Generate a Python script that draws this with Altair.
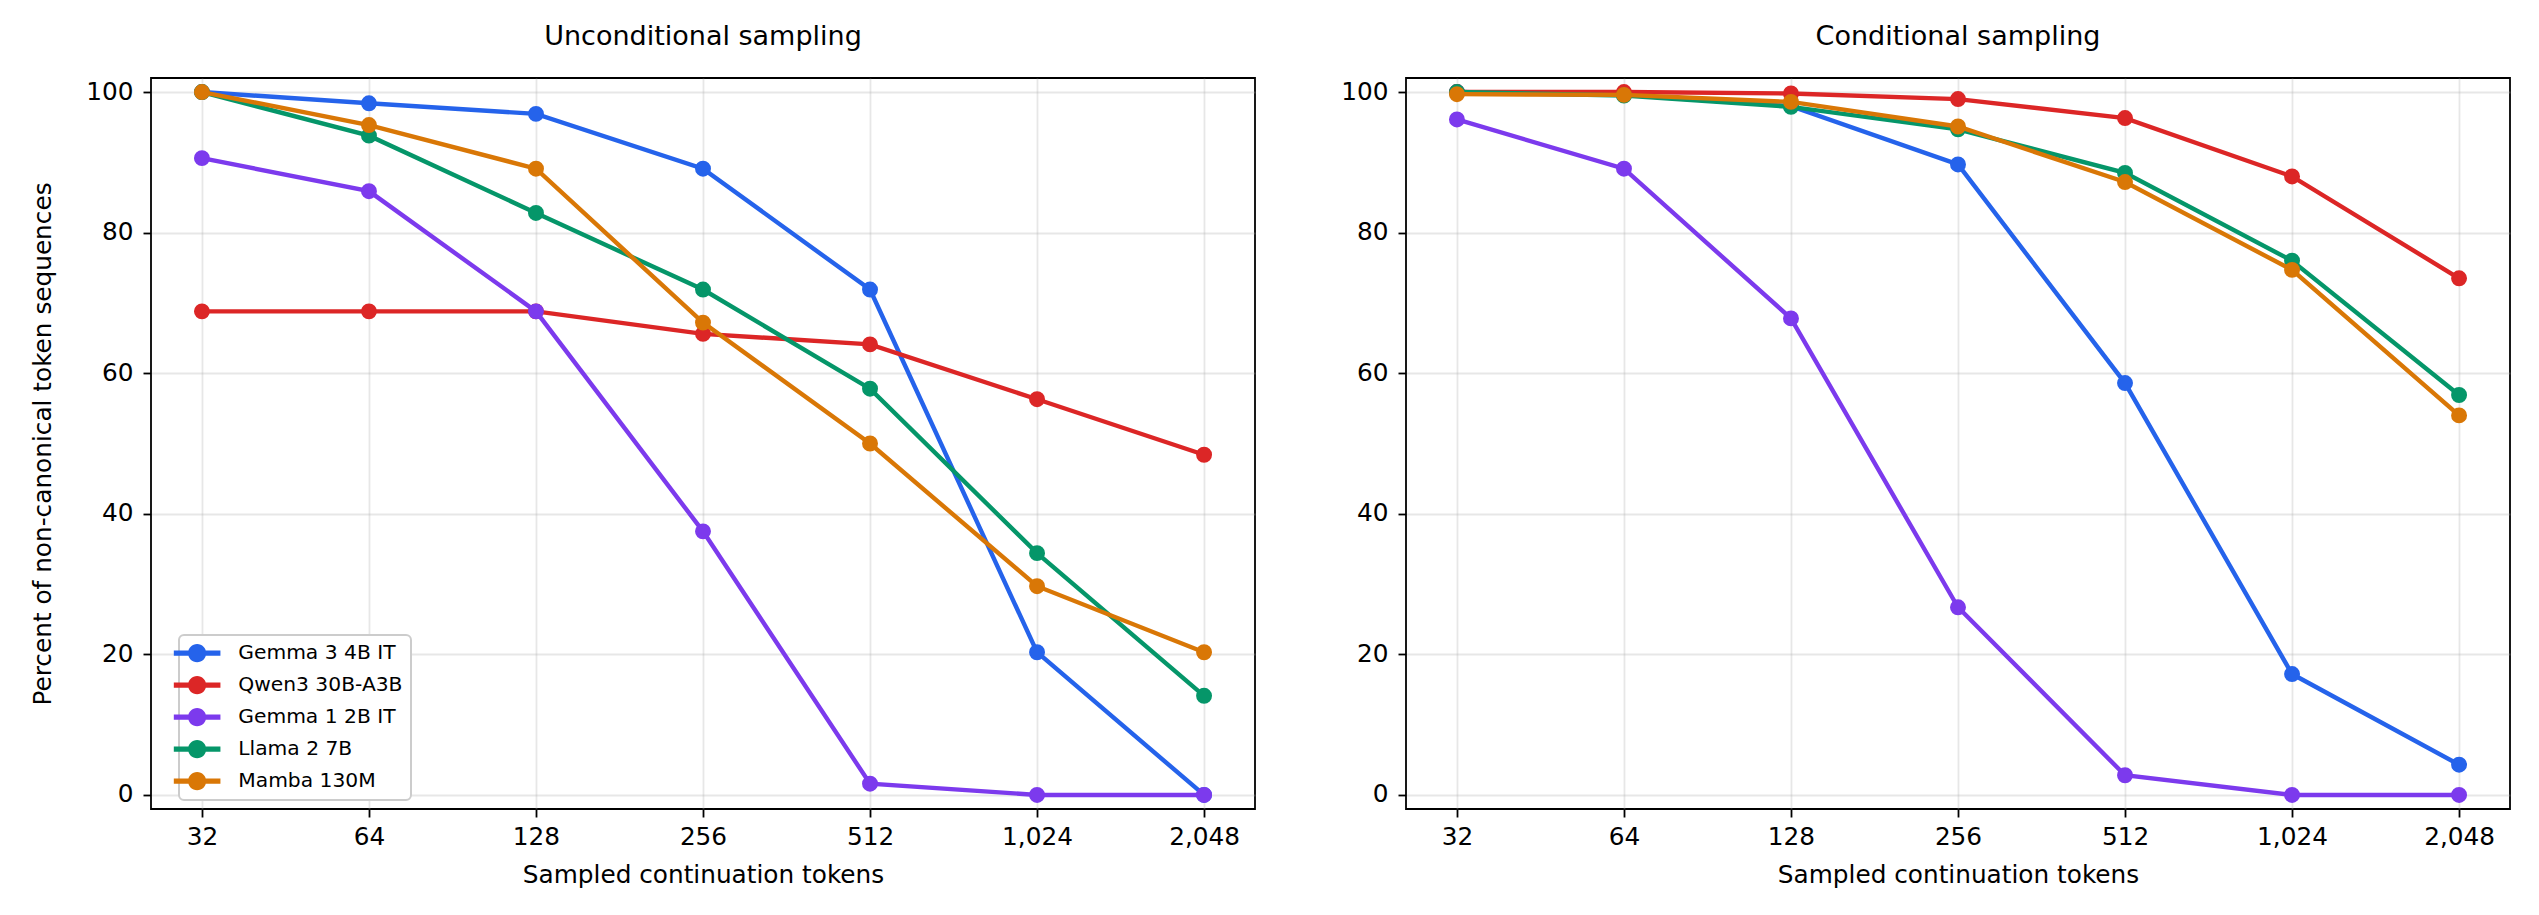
import altair as alt
import pandas as pd

# x positions: sampled continuation tokens (log2 spaced)
TOKENS = [32, 64, 128, 256, 512, 1024, 2048]
MODELS = ["Gemma 3 4B IT", "Qwen3 30B-A3B", "Gemma 1 2B IT", "Llama 2 7B", "Mamba 130M"]
COLORS = ["#2563eb", "#dc2626", "#7c3aed", "#059669", "#d97706"]

# % of non-canonical token sequences, unconditional sampling
UNCOND_GEMMA3 = [100.0, 98.4, 96.9, 89.1, 71.9, 20.3, 0.0]
UNCOND_QWEN3 = [68.8, 68.8, 68.8, 65.6, 64.1, 56.3, 48.4]
UNCOND_GEMMA1 = [90.6, 85.9, 68.8, 37.5, 1.6, 0.0, 0.0]
UNCOND_LLAMA2 = [100.0, 93.8, 82.8, 71.9, 57.8, 34.4, 14.1]
UNCOND_MAMBA = [100.0, 95.3, 89.1, 67.2, 50.0, 29.7, 20.3]

# % of non-canonical token sequences, conditional sampling
COND_GEMMA3 = [100.0, 99.6, 98.0, 89.7, 58.6, 17.2, 4.3]
COND_QWEN3 = [100.0, 100.0, 99.8, 99.0, 96.3, 88.0, 73.5]
COND_GEMMA1 = [96.1, 89.1, 67.8, 26.7, 2.8, 0.0, 0.0]
COND_LLAMA2 = [100.0, 99.5, 97.9, 94.7, 88.5, 76.0, 56.9]
COND_MAMBA = [99.7, 99.6, 98.6, 95.1, 87.2, 74.7, 54.0]

FONT = "DejaVu Sans"
GRID = "#b0b0b0"

# line + dot legend handle, drawn in units of sqrt(symbolSize)/2 (= 7px)
HANDLE = ("M-3.33,-0.36H3.33V0.36H-3.33Z "
          "M-1.29,0A1.29,1.29 0 1,1 1.29,0A1.29,1.29 0 1,1 -1.29,0Z")

# pad the log axis by ~0.3 of a doubling on each side, like matplotlib margins
X_DOMAIN = [TOKENS[0] / 2 ** 0.305, TOKENS[-1] * 2 ** 0.305]


def panel(series, title, show_y_title, show_legend):
    color_scale = alt.Scale(domain=MODELS, range=COLORS)
    if show_legend:
        legend = alt.Legend(
            title=None, orient="none", legendX=28, legendY=557,
            symbolType=HANDLE, symbolSize=196, symbolStrokeWidth=0,
            labelFont=FONT, labelFontSize=20.25, labelColor="black", labelOffset=31,
            labelLimit=400, rowPadding=11, padding=8,
        )
    else:
        legend = None
    x = alt.X("tokens:Q",
              scale=alt.Scale(type="log", base=2, domain=X_DOMAIN, nice=False, zero=False),
              axis=alt.Axis(values=TOKENS, format=","), title="Sampled continuation tokens")
    y = alt.Y("value:Q", scale=alt.Scale(domain=[-2, 102], nice=False, zero=False),
              axis=alt.Axis(values=[0, 20, 40, 60, 80, 100]),
              title="Percent of non-canonical token sequences" if show_y_title else None)

    layers = []
    # one line + marker pair per model, in plotting order
    for model, values in zip(MODELS, series):
        df = pd.DataFrame({"tokens": TOKENS, "value": values, "model": model})
        base = alt.Chart(df).encode(
            x=x, y=y,
            color=alt.Color("model:N", scale=color_scale, legend=legend),
        )
        layers.append(base.mark_line(strokeWidth=4.4))
        layers.append(base.mark_point(filled=True, size=254, opacity=1, shape="circle"))
    return alt.layer(*layers).properties(
        width=1104, height=731,
        title=alt.TitleParams(title, fontSize=27, font=FONT, fontWeight="normal", offset=27),
    )


left = panel([UNCOND_GEMMA3, UNCOND_QWEN3, UNCOND_GEMMA1, UNCOND_LLAMA2, UNCOND_MAMBA],
             "Unconditional sampling", True, True)
right = panel([COND_GEMMA3, COND_QWEN3, COND_GEMMA1, COND_LLAMA2, COND_MAMBA],
              "Conditional sampling", False, False)

chart = alt.hconcat(left, right, spacing=83).resolve_scale(color="independent").properties(
    padding={"left": 21, "top": 14, "right": 5, "bottom": 5},
).configure_axis(
    labelFont=FONT, labelFontSize=24.75, labelColor="black",
    titleFont=FONT, titleFontSize=24.75, titleColor="black", titleFontWeight="normal",
    grid=True, gridColor=GRID, gridOpacity=0.3, gridWidth=1.8,
    domain=False, tickColor="black", tickWidth=1.8, tickSize=8,
).configure_axisX(
    labelPadding=7, titlePadding=14,
).configure_axisY(
    labelPadding=10, titlePadding=30,
).configure_legend(
    strokeColor="#cccccc", strokeWidth=2, fillColor="white", cornerRadius=5,
).configure_view(
    stroke="black", strokeWidth=1.8,
)

chart.save("out.html", embed_options={"renderer": "svg", "actions": False})
